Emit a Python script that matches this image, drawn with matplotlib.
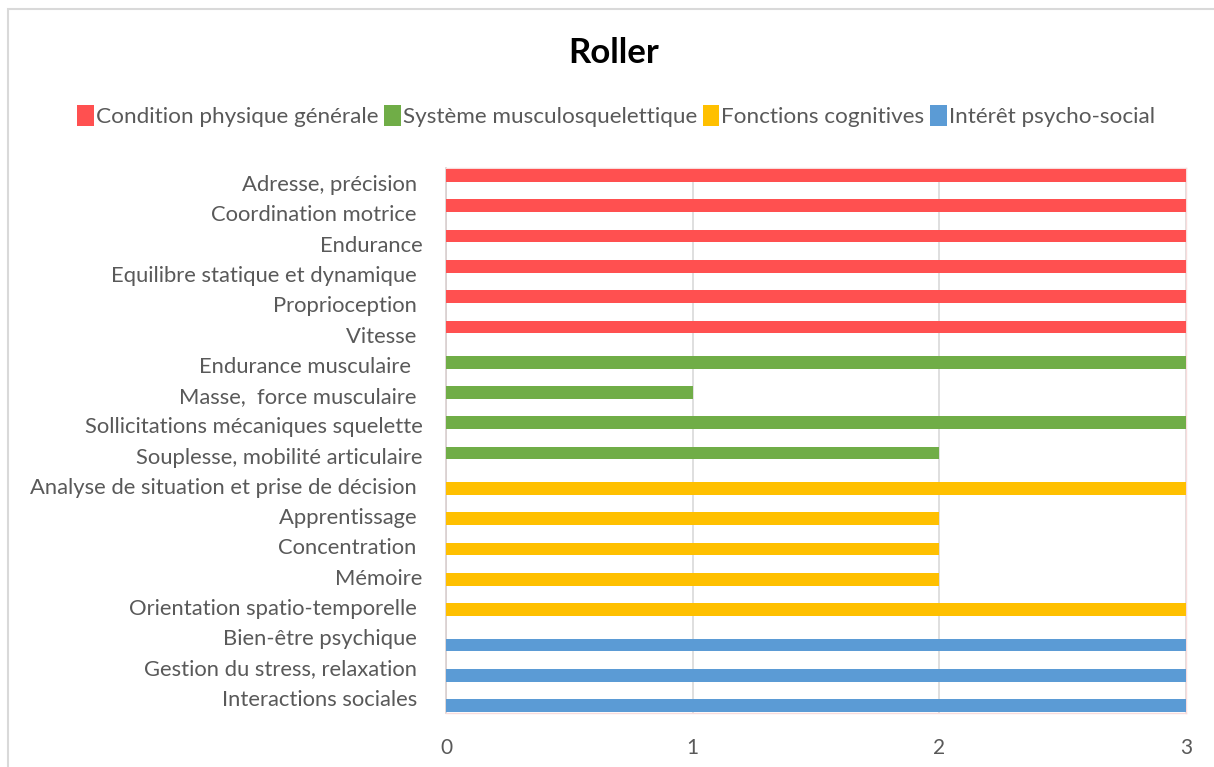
import numpy as np
import matplotlib
matplotlib.use("Agg")
import matplotlib.pyplot as plt
from matplotlib.patches import Patch, Rectangle

plt.rcParams['font.family'] = ['Lato', 'DejaVu Sans']

# data
categories = [
    "Adresse, précision ", "Coordination motrice ", "Endurance",
    "Equilibre statique et dynamique ", "Proprioception ", "Vitesse ",
    "Endurance musculaire  ", "Masse,  force musculaire ",
    "Sollicitations mécaniques squelette", "Souplesse, mobilité articulaire",
    "Analyse de situation et prise de décision ", "Apprentissage ",
    "Concentration ", "Mémoire", "Orientation spatio-temporelle ",
    "Bien-être psychique ", "Gestion du stress, relaxation ",
    "Interactions sociales ",
]
series_names = ["Condition physique générale", "Système musculosquelettique",
                "Fonctions cognitives", "Intérêt psycho-social"]
series_colors = ["#FF5050", "#70AD47", "#FFC000", "#5B9BD5"]
# which series each category belongs to
cat_group = [0, 0, 0, 0, 0, 0, 1, 1, 1, 1, 2, 2, 2, 2, 2, 3, 3, 3]
values = [3, 3, 3, 3, 3, 3, 3, 1, 3, 2, 3, 2, 2, 2, 3, 3, 3, 3]
x_ticks = [0, 1, 2, 3]

text_color = "#595959"

fig = plt.figure(figsize=(12.14, 7.67), dpi=100)
W, H = 1214, 767
ax = fig.add_axes([446 / W, 1 - 713 / H, (1186 - 446) / W, (713 - 168) / H])

y = np.arange(len(categories))
offsets = [-0.25, -0.083, 0.083, 0.25]
bar_h = 0.42

for k, name in enumerate(series_names):
    vals = np.array([v if g == k else 0 for v, g in zip(values, cat_group)], dtype=float)
    ax.barh(y + offsets[k], vals, height=bar_h, color=series_colors[k],
            edgecolor="none", zorder=3)

ax.set_xlim(0, 3)
ax.set_ylim(len(categories) - 0.5, -0.5)
ax.set_xticks(x_ticks)
ax.set_yticks(y)
ax.set_yticklabels(categories)
ax.tick_params(axis="y", length=0, pad=17, labelsize=15.8, labelcolor=text_color)
ax.tick_params(axis="x", length=0, pad=18, labelsize=15, labelcolor=text_color)
ax.grid(axis="x", color="#D9D9D9", lw=1.2, zorder=0)
for s in ["top", "bottom", "right"]:
    ax.spines[s].set_color("#F8DCDC")
    ax.spines[s].set_linewidth(1)
ax.spines["left"].set_color("#D9CFCF")
ax.spines["left"].set_linewidth(1.2)

fig.text(614 / W, 1 - 53 / H, "Roller", ha="center", va="center",
         fontsize=25, fontweight="bold", color="black")

handles = [Patch(facecolor=c, edgecolor="none") for c in series_colors]
fig.legend(handles, series_names, loc="center", bbox_to_anchor=(616 / W, 1 - 116 / H),
           ncol=4, frameon=False, fontsize=16.2, handlelength=0.75, handleheight=1.1,
           handletextpad=0.08, columnspacing=0.25, labelcolor=text_color)

# chart border
fig.patches.append(Rectangle((8 / W, -0.05), 1.2, 1 - 9 / H + 0.05,
                             transform=fig.transFigure, fill=False,
                             edgecolor="#D9D9D9", lw=1.5))

fig.savefig("out.png", dpi=100, facecolor="white")
